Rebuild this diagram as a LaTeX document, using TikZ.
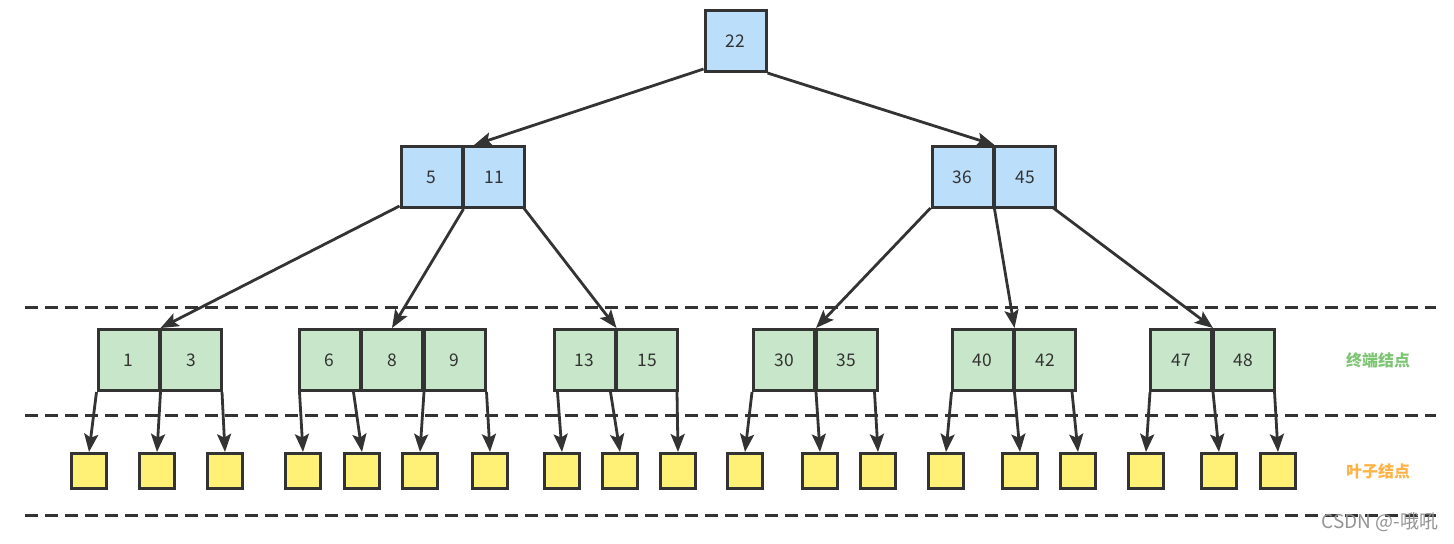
\documentclass[tikz,border=0pt]{standalone}
\usepackage{fontspec}
\setmainfont{Noto Sans CJK SC}
\usepackage{tikz}
\usetikzlibrary{positioning,calc,arrows.meta}

\definecolor{strokeGray}{HTML}{333333}
\definecolor{blueFill}{HTML}{BBDEFB}
\definecolor{greenFill}{HTML}{C8E6C9}
\definecolor{yellowFill}{HTML}{FFF176}
\definecolor{termGreen}{HTML}{7DC473}
\definecolor{leafOrange}{HTML}{FFB246}

\tikzset{
  key/.style={draw=strokeGray, line width=1.5pt, minimum size=30.5pt, inner sep=0pt,
    text=strokeGray, font=\fontsize{8.7}{10}\selectfont},
  inner/.style={key, fill=blueFill},
  term/.style={key, fill=greenFill},
  leaf/.style={draw=strokeGray, line width=1.5pt, fill=yellowFill, minimum size=17.5pt, inner sep=0pt},
  link/.style={->, draw=strokeGray, line width=1.4pt},
  level/.style={draw=strokeGray, line width=1.5pt, dash pattern=on 6.5pt off 3.5pt},
}

\begin{document}
\begin{tikzpicture}[x=0.5pt,y=-0.5pt,>={Stealth[length=9pt,width=7pt,inset=1.8pt]}]
\useasboundingbox (0,0) rectangle (1454,543);
% The levels
\draw[level] (25,307) -- (1436,307);
\draw[level] (25,415) -- (1436,415);
\draw[level] (25,515) -- (1436,515);
% Root
\node[inner] (root) at (735.5,41) {22};
% Inner nodes
\node[inner] (n5) at (431.5,177) {5};
\node[inner, right=-0.75pt of n5] (n11) {11};
\node[inner] (n36) at (962.5,177) {36};
\node[inner, right=-0.75pt of n36] (n45) {45};
% Terminal nodes
\node[term] (n1) at (128.5,360) {1};
\node[term, right=-0.75pt of n1] (n3) {3};
\node[term] (n6) at (329.5,360) {6};
\node[term, right=-0.75pt of n6] (n8) {8};
\node[term, right=-0.75pt of n8] (n9) {9};
\node[term] (n13) at (584.5,360) {13};
\node[term, right=-0.75pt of n13] (n15) {15};
\node[term] (n30) at (784,360) {30};
\node[term, right=-0.75pt of n30] (n35) {35};
\node[term] (n40) at (982.5,360) {40};
\node[term, right=-0.75pt of n40] (n42) {42};
\node[term] (n47) at (1181,360) {47};
\node[term, right=-0.75pt of n47] (n48) {48};
% Leaves
\foreach \x [count=\i] in {89,157,225,303,362,420,490,562,620,678,745,820,878,946,1020,1078,1146,1219,1278}
  \node[leaf] (l\i) at (\x,471) {};
% Links
\draw[link] ($(root.south west)+(0,-4)$) -- ($(n11.north west)+(12,0)$);
\draw[link] (root.south east) -- (n36.north east);
\draw[link] ($(n5.south west)+(0,-3)$) -- (n1.north east);
\draw[link] (n5.south east) -- (n8.north);
\draw[link] ($(n11.south east)+(-3,-2)$) -- (n13.north east);
\draw[link] ($(n36.south west)+(0,-1)$) -- (n30.north east);
\draw[link] (n36.south east) -- (n40.north east);
\draw[link] ($(n45.south east)+(-5,-2)$) -- (n47.north east);
\foreach \a/\s/\l in {n1.south west/0/1, n1.south east/0/2, n3.south east/-1/3,
    n6.south west/2/4, n6.south east/-8/5, n8.south east/0/6, n9.south east/0/7,
    n13.south west/5/8, n13.south east/-6/9, n15.south east/-2/10,
    n30.south west/0/11, n30.south east/0/12, n35.south east/-4/13,
    n40.south west/1/14, n40.south east/0/15, n42.south east/-5/16,
    n47.south west/1/17, n47.south east/0/18, n48.south east/-1/19}
  \draw[link] ($(\a)+(\s,0)$) -- (l\l.north);
% Labels
\node[text=termGreen, font=\fontsize{8}{9}\selectfont\bfseries] (termlabel) at (1378,360) {终端结点};
\node[text=leafOrange, font=\fontsize{8}{9}\selectfont\bfseries] (leaflabel) at (1378,471) {叶子结点};
\node[text=gray!85, font=\fontsize{9.5}{10}\selectfont] (mark) at (1380,522) {CSDN @-哦吼};
\end{tikzpicture}
\end{document}
